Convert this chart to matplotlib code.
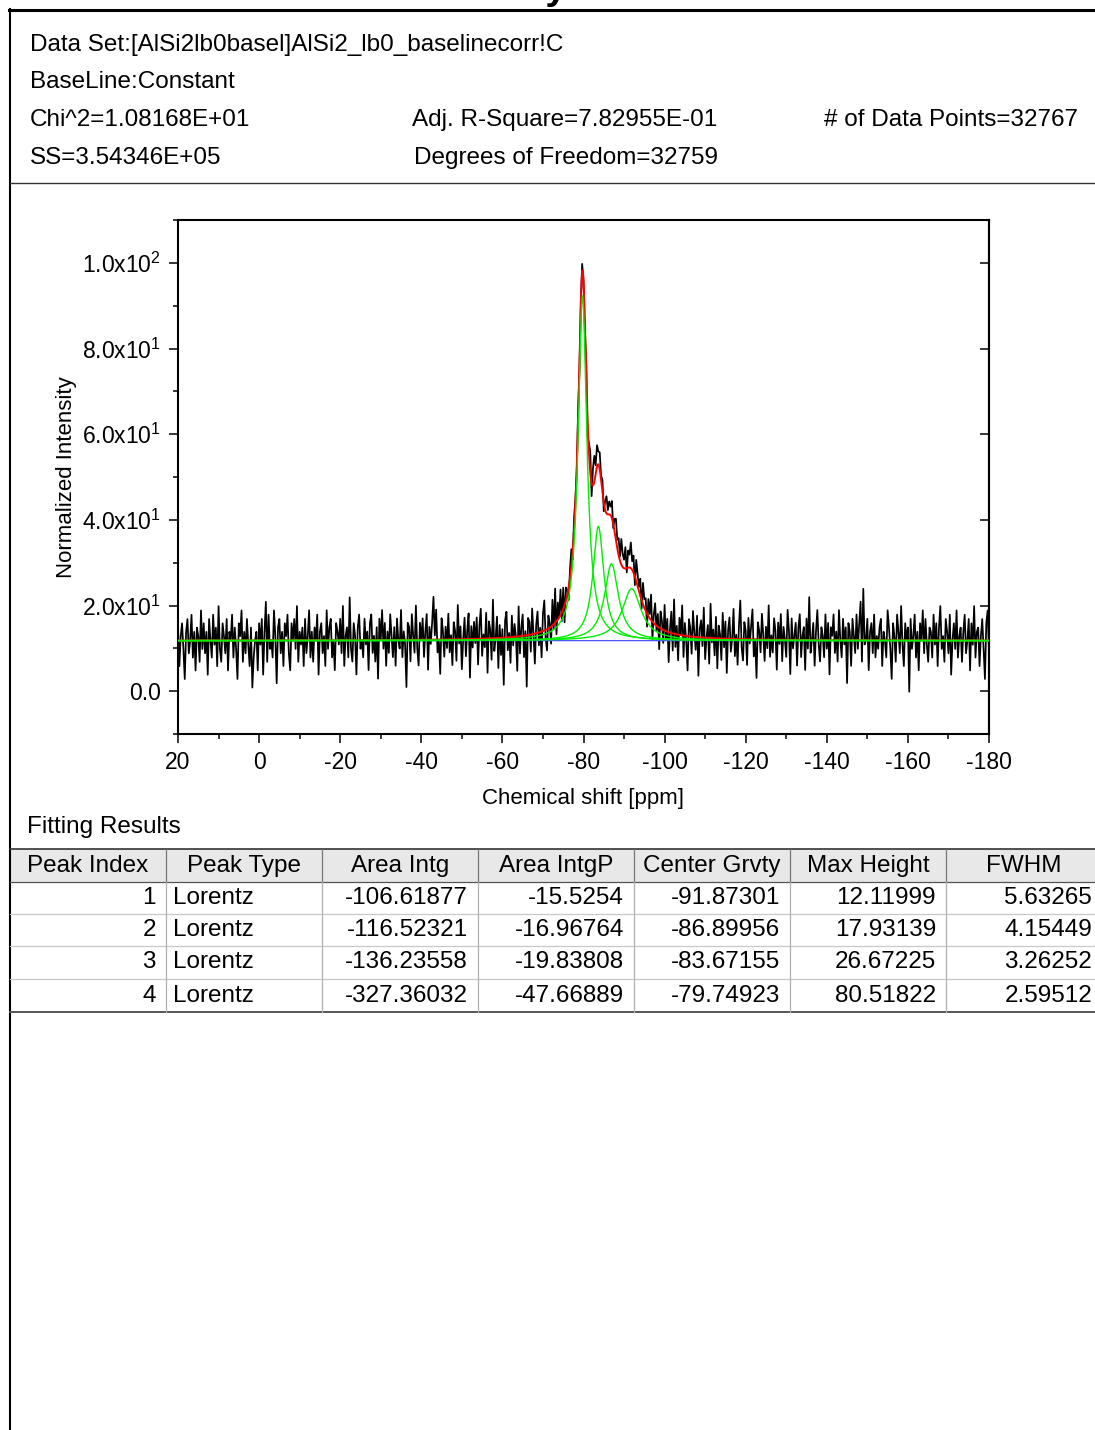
import matplotlib

matplotlib.use("Agg")

import matplotlib.pyplot as plt
import numpy as np
from matplotlib.lines import Line2D
from matplotlib.patches import Rectangle
from matplotlib.ticker import FixedLocator, MultipleLocator, NullLocator

W, H = 1095, 1430

# report header
HEADER_ROWS = [
    (45, [(30, "Data Set:[AlSi2lb0basel]AlSi2_lb0_baselinecorr!C")]),
    (82, [(30, "BaseLine:Constant")]),
    (120, [(30, "Chi^2=1.08168E+01"), (412, "Adj. R-Square=7.82955E-01"), (824, "# of Data Points=32767")]),
    (158, [(30, "SS=3.54346E+05"), (414, "Degrees of Freedom=32759")]),
]

# fitting results
PEAK_INDEX = [1, 2, 3, 4]
PEAK_TYPE = ["Lorentz", "Lorentz", "Lorentz", "Lorentz"]
AREA_INTG = [-106.61877, -116.52321, -136.23558, -327.36032]
AREA_INTGP = [-15.5254, -16.96764, -19.83808, -47.66889]
CENTER_GRVTY = [-91.87301, -86.89956, -83.67155, -79.74923]
MAX_HEIGHT = [12.11999, 17.93139, 26.67225, 80.51822]
FWHM = [5.63265, 4.15449, 3.26252, 2.59512]
BASELINE = 11.8

TABLE_HEADER = ["Peak Index", "Peak Type", "Area Intg", "Area IntgP", "Center Grvty", "Max Height", "FWHM"]

X_TICKS = [20, 0, -20, -40, -60, -80, -100, -120, -140, -160, -180]
Y_TICKS = [0, 20, 40, 60, 80, 100]
Y_TICK_LABELS = ["0.0", "2.0x10$^1$", "4.0x10$^1$", "6.0x10$^1$", "8.0x10$^1$", "1.0x10$^2$"]

# data minus fit, every 1/3 ppm from 20 to -180 ppm
NOISE = [
    3, -6, 1, 4, -2, -9, 2, 5, -3, 0, 6, -4, 2, -7, 3, 1, -5, 7, -2, 4,
    -3, 2, -8, 5, 0, -4, 6, -1, 3, -6, 8, -2, -5, 4, 1, -3, 5, -7, 2, 0,
    6, -4, 3, -2, -9, 4, 1, 7, -5, 2, -3, 5, -1, -6, 3, -11, -4, 0, 2, -7,
    4, -1, 5, -8, 2, 9, -5, 6, -2, 0, -4, 7, 1, -10, 3, 5, -3, 2, -6, 4,
    1, 6, -3, -7, 4, 0, 5, -2, 8, -5, 2, -1, 3, -6, 5, -3, 1, 7, -4, 2,
    -5, 3, 0, 6, -8, 2, 4, -3, 1, -6, 7, -2, 3, 5, -4, 0, -7, 4, 2, -1,
    5, -3, 8, -6, 1, 3, -4, 10, -2, -5, 4, 1, -8, 3, 6, -2, 0, -4, 5, -1,
    2, -7, 4, 6, -3, 1, -5, 3, -9, 5, 0, 7, -2, 4, -6, 2, -3, 6, 1, -4,
    3, -6, 5, 0, -2, 7, -4, 2, -1, -11, 4, 3, -5, 6, 1, -3, 8, -2, -6, 4,
    0, 5, -4, 2, 6, -7, 3, -1, 4, 10, 1, 7, -3, 0, -8, 5, 2, -4, 3, -2,
    6, -3, 1, -6, 4, 2, -5, 8, -1, 3, -7, 0, 5, -4, 2, 6, -9, 3, -2, 4,
    -1, 5, -6, 3, 7, -4, 1, -2, 6, -8, 4, 2, -5, 9, -3, 0, 5, -7, 3, -4,
    2, -11, 4, 6, -3, 1, -6, 5, -2, 3, 0, -8, 7, -4, 2, 5, -5, 1, -12, 4,
    3, -4, 6, 0, -7, 2, 5, -3, 1, -6, 4, 7, -2, -5, 3, 1, -4, 6, -1, 8,
    -3, 4, 0, 6, -2, 5, -4, 3, 1, -3, 2, 4, -2, 3, 1, -1, 2, -2, 1, 2,
    0, -2, 3, -4, 2, 5, -3, 4, 6, 2, 5, 3, 4, 1, 3, -2, 2, 4, 1, 3,
    2, 4, -1, 3, 5, 2, 4, 1, 6, 3, 2, 5, -1, 4, 3, 6, 2, 4, -2, 5,
    3, 1, 4, -2, 5, 2, 3, -3, 4, 1, 6, -4, 2, 5, -1, 3, -5, 4, 2, -3,
    6, -2, 3, -7, 1, 5, -4, 8, -3, 2, -6, 4, 0, 7, -5, 3, -1, -8, 4, 2,
    -4, 6, 1, -3, 5, -9, 2, 4, -2, 7, -5, 0, 3, -6, 8, -1, 2, -4, 5, -7,
    3, 1, -5, 6, -2, 4, -8, 2, 5, -3, 0, 7, -4, 1, -6, 3, 9, -2, -5, 4,
    2, -6, 5, -1, 3, 7, -4, 0, -9, 4, 2, -3, 6, 1, -5, 3, -2, 8, -4, 1,
    -3, 5, 2, -7, 4, -1, 6, -5, 3, 0, -4, 7, 2, -8, 5, -2, 1, 4, -6, 3,
    6, -4, 1, 3, -7, 5, -2, 10, -3, 0, 4, -6, 2, 7, -1, -5, 3, 1, -4, 6,
    -2, 4, -8, 3, 1, 6, -3, 2, -5, 7, 0, -4, 5, -1, 3, -10, 4, 2, -6, 5,
    1, -3, 6, -2, 4, 9, -5, 12, -1, 0, 5, -7, 2, 4, -3, 6, -4, 1, -2, 3,
    5, -6, 2, 0, -4, 7, 3, -2, -9, 4, 1, -5, 6, 2, -3, 8, -1, -6, 4, 0,
    3, -12, 5, -2, 1, 6, -4, 2, -7, 4, 0, 7, -3, 5, -1, -5, 3, 2, -4, 6,
    -1, 4, -6, 3, 8, -2, 1, -5, 5, 2, -3, 6, -8, 0, 4, -2, 7, -4, 1, 3,
    -5, 2, 6, -3, 0, 5, -7, 4, -1, 8, -4, 2, 3, -6, 1, 5, -2, -9, 4, 7,
    -3,
]

FONT = "Liberation Sans"
plt.rcParams["font.family"] = [FONT, "DejaVu Sans"]
plt.rcParams["mathtext.default"] = "regular"

TEXT_SIZE = 17.5


def fx(x):
    return x / W


def fy(y):
    return 1 - y / H


def hline(fig, x0, x1, y, color="black", lw=1.0):
    fig.add_artist(Line2D([fx(x0), fx(x1)], [fy(y), fy(y)], transform=fig.transFigure, color=color, lw=lw))


def vline(fig, x, y0, y1, color="black", lw=1.0):
    fig.add_artist(Line2D([fx(x), fx(x)], [fy(y0), fy(y1)], transform=fig.transFigure, color=color, lw=lw))


def lorentz(x, center, height, width):
    return height / (1 + 4 * ((x - center) / width) ** 2)


def draw_header(fig):
    # page title sits above the page edge, only the tail of the last letter shows
    fig.text(fx(568), fy(-1), "Summary", ha="right", va="baseline", fontsize=28, fontweight="bold")
    hline(fig, 9, W, 10, lw=2.2)
    vline(fig, 10, 9, H, lw=1.5)
    hline(fig, 10, W, 183, color="#333333", lw=1.0)
    for y, items in HEADER_ROWS:
        for x, s in items:
            fig.text(fx(x), fy(y), s, ha="left", va="center", fontsize=TEXT_SIZE)


def draw_plot(fig):
    ax = fig.add_axes([fx(178), fy(734), (989 - 178) / W, (734 - 220) / H])

    x_fit = np.linspace(20, -180, 3001)
    peaks = [lorentz(x_fit, c, h, w) for c, h, w in zip(CENTER_GRVTY, MAX_HEIGHT, FWHM)]
    total = BASELINE + np.sum(peaks, axis=0)

    x_data = np.linspace(20, -180, len(NOISE))
    y_data = BASELINE + np.sum(
        [lorentz(x_data, c, h, w) for c, h, w in zip(CENTER_GRVTY, MAX_HEIGHT, FWHM)], axis=0
    ) + np.array(NOISE, dtype=float)

    ax.plot(x_data, y_data, color="black", lw=1.25, zorder=2)
    ax.plot(x_fit, np.full_like(x_fit, BASELINE), color="#4a55ff", lw=0.9, zorder=3)
    ax.plot(x_fit, total, color="red", lw=1.4, zorder=4)
    for p in peaks:
        ax.plot(x_fit, BASELINE + p, color="#00ee00", lw=1.0, zorder=5)

    ax.set_xlim(20, -180)
    ax.set_ylim(-10, 110)
    ax.xaxis.set_major_locator(FixedLocator(X_TICKS))
    ax.xaxis.set_minor_locator(MultipleLocator(10))
    ax.set_xticklabels([str(t) for t in X_TICKS])
    ax.yaxis.set_major_locator(FixedLocator(Y_TICKS))
    ax.yaxis.set_minor_locator(MultipleLocator(10))
    ax.set_yticklabels(Y_TICK_LABELS)

    ax.tick_params(which="major", direction="out", length=6.5, width=1.1, labelsize=16.5, pad=6)
    ax.tick_params(which="minor", direction="out", length=3.5, width=1.1)
    for spine in ax.spines.values():
        spine.set_linewidth(1.5)

    sec = ax.secondary_yaxis("right")
    sec.set_yticks(Y_TICKS)
    sec.yaxis.set_minor_locator(NullLocator())
    sec.tick_params(direction="in", length=6.5, width=1.1, labelright=False)
    sec.spines["right"].set_linewidth(1.5)

    ax.set_xlabel("Chemical shift [ppm]", fontsize=16, labelpad=10)
    ax.set_ylabel("Normalized Intensity", fontsize=16, labelpad=3)


def draw_table(fig):
    fig.text(fx(27), fy(827), "Fitting Results", ha="left", va="center", fontsize=TEXT_SIZE)

    col_edges = [10, 166, 322, 478, 634, 790, 946, 1102]
    row_edges = [849, 882, 914, 946, 979, 1012]

    fig.add_artist(Rectangle((fx(10), fy(882)), fx(W - 10), (882 - 849) / H,
                             transform=fig.transFigure, facecolor="#e8e8e8", edgecolor="none"))
    hline(fig, 10, W, 849, color="#333333", lw=1.2)
    hline(fig, 10, W, 882, color="#555555", lw=0.9)
    for y in row_edges[2:-1]:
        hline(fig, 10, W, y, color="#c8c8c8", lw=0.9)
    hline(fig, 10, W, 1012, color="#555555", lw=1.4)
    for x in col_edges[1:-1]:
        vline(fig, x, 849, 882, color="#777777", lw=0.9)
        vline(fig, x, 882, 1012, color="#b0b0b0", lw=0.9)

    for j, name in enumerate(TABLE_HEADER):
        xc = (col_edges[j] + col_edges[j + 1]) / 2
        fig.text(fx(xc), fy(866), name, ha="center", va="center", fontsize=TEXT_SIZE)

    columns = [PEAK_INDEX, PEAK_TYPE, AREA_INTG, AREA_INTGP, CENTER_GRVTY, MAX_HEIGHT, FWHM]
    for i in range(len(PEAK_INDEX)):
        yc = (row_edges[i + 1] + row_edges[i + 2]) / 2
        for j, col in enumerate(columns):
            s = str(col[i])
            if j == 1:
                fig.text(fx(col_edges[j] + 7), fy(yc), s, ha="left", va="center", fontsize=TEXT_SIZE)
            else:
                fig.text(fx(col_edges[j + 1] - 10), fy(yc), s, ha="right", va="center", fontsize=TEXT_SIZE)


def main():
    fig = plt.figure(figsize=(W / 100, H / 100), dpi=100)
    draw_header(fig)
    draw_plot(fig)
    draw_table(fig)
    fig.savefig("out.png", dpi=100)
    plt.close(fig)


if __name__ == "__main__":
    main()
